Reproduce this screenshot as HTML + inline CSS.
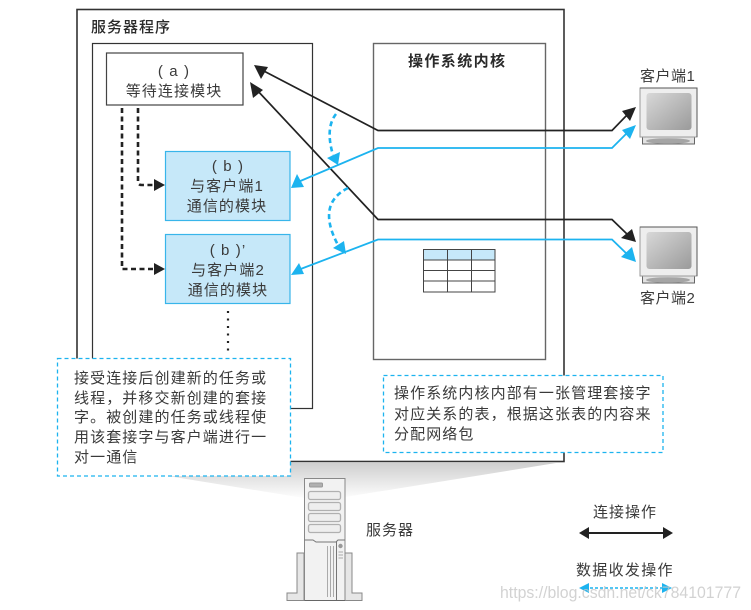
<!DOCTYPE html>
<html><head><meta charset="utf-8">
<style>
html,body{margin:0;padding:0;background:#fff}
svg{display:block}
text{font-family:"Liberation Sans","Noto Sans CJK SC",sans-serif;font-size:15px;fill:#3a3a3a;letter-spacing:1.1px}
.c{text-anchor:middle}
.b{font-weight:bold;fill:#2a2a2a}
</style></head><body>
<svg width="751" height="610" viewBox="0 0 751 610" xmlns="http://www.w3.org/2000/svg">
<defs>
<linearGradient id="g" x1="0" y1="0" x2="0" y2="1"><stop offset="0" stop-color="#cfcfcf"/><stop offset="1" stop-color="#fdfdfd"/></linearGradient>
<linearGradient id="s" x1="0" y1="0" x2="1" y2="1"><stop offset="0" stop-color="#d8d8d8"/><stop offset="1" stop-color="#9a9a9a"/></linearGradient>
<g id="mon">
<rect x="2.500" y="49" width="52" height="7" fill="#e2e2e2" stroke="#666" stroke-width="1"/>
<ellipse cx="28" cy="53" rx="22" ry="2.800" fill="#a5a5a5"/>
<rect x="0" y="0" width="57" height="49" fill="#eeeeee" stroke="#999" stroke-width="1"/>
<path d="M0 0H57V49" fill="none" stroke="#555" stroke-width="1"/>
<rect x="6.500" y="5" width="45" height="37" rx="3" fill="url(#s)"/>
</g>
</defs>

<!-- shade -->
<polygon points="168,476 304,498 345,497 556,463 77,463" fill="url(#g)"/>

<!-- outer -->
<rect x="77" y="9.500" width="487" height="452" fill="none" stroke="#333" stroke-width="1.600"/>
<rect x="92.500" y="43.500" width="220" height="365" fill="#fff" stroke="#333" stroke-width="1.200"/>
<rect x="373.500" y="43.500" width="172" height="316" fill="#fff" stroke="#666" stroke-width="1.400"/>

<text x="91" y="32" style="font-size:15px;letter-spacing:1px;font-weight:500;fill:#2a2a2a">服务器程序</text>
<text x="408" y="66" class="b" style="font-size:15px;letter-spacing:1.400px">操作系统内核</text>

<!-- a box -->
<rect x="106.500" y="53" width="136.500" height="52" fill="#fff" stroke="#444" stroke-width="1.200"/>
<text x="174" y="76" class="c">( a )</text>
<text x="174" y="96" class="c">等待连接模块</text>

<!-- b boxes -->
<rect x="165.500" y="151.500" width="124.500" height="69" fill="#c6e8f9" stroke="#38b5ea" stroke-width="1.200"/>
<text x="228" y="171" class="c">( b )</text>
<text x="227" y="191" class="c">与客户端1</text>
<text x="227" y="211" class="c">通信的模块</text>
<rect x="165.500" y="234.500" width="124.500" height="69" fill="#c6e8f9" stroke="#38b5ea" stroke-width="1.200"/>
<text x="228" y="255" class="c">( b )’</text>
<text x="228" y="275" class="c">与客户端2</text>
<text x="228" y="295" class="c">通信的模块</text>

<!-- dashed black -->
<path d="M138 108V182Q138 185 142 185H156" fill="none" stroke="#222" stroke-width="2.600" stroke-dasharray="5 3.500"/>
<polygon points="165,185 154,179 154,191" fill="#222"/>
<path d="M122 108V269H156" fill="none" stroke="#222" stroke-width="2.600" stroke-dasharray="5 3.500"/>
<polygon points="165,269 154,263 154,275" fill="#222"/>

<!-- dots -->
<path d="M228 311V352" fill="none" stroke="#222" stroke-width="2.200" stroke-dasharray="2 5.500"/>

<!-- table -->
<rect x="423.500" y="249.500" width="71.500" height="10.500" fill="#c6e8f9"/>
<g fill="none" stroke="#444" stroke-width="1">
<rect x="423.500" y="249.500" width="71.500" height="42.500"/>
<path d="M447.500 249.500V292M471.500 249.500V292M423.500 260H495M423.500 270.500H495M423.500 281H495"/>
</g>

<!-- black connectors -->
<path d="M260 69L378 130.500H612L628 114" fill="none" stroke="#222" stroke-width="1.700"/>
<polygon points="254,65 268,67 261,79" fill="#222"/>
<polygon points="636,107 622,111 630,121" fill="#222"/>
<path d="M256 89L378 219.500H612L628 235" fill="none" stroke="#222" stroke-width="1.700"/>
<polygon points="250,82 263,90 253,98" fill="#222"/>
<polygon points="636,242 621,238 632,229" fill="#222"/>

<!-- cyan connectors -->
<path d="M298 182L378 148H612L628 132" fill="none" stroke="#1cb3ef" stroke-width="1.800"/>
<polygon points="291,188 297,174 304,187" fill="#1cb3ef"/>
<polygon points="636,125 622,130 630,139" fill="#1cb3ef"/>
<path d="M298 270L378 239.500H612L628 255" fill="none" stroke="#1cb3ef" stroke-width="1.800"/>
<polygon points="291,275 299,263 304,274" fill="#1cb3ef"/>
<polygon points="636,262 621,257 632,247" fill="#1cb3ef"/>

<!-- curved dashed -->
<path d="M336 114Q325 128 333 155" fill="none" stroke="#1cb3ef" stroke-width="2.600" stroke-dasharray="5 3.500"/>
<polygon points="338,165 327,158 340,152" fill="#1cb3ef"/>
<path d="M348 188Q316 204 338 245" fill="none" stroke="#1cb3ef" stroke-width="2.600" stroke-dasharray="5 3.500"/>
<polygon points="346,254 333,248 344,241" fill="#1cb3ef"/>

<!-- callouts -->
<rect x="57.500" y="358.500" width="233" height="117.500" fill="#fff" stroke="#1cb3ef" stroke-width="1.300" stroke-dasharray="4 3"/>
<text x="74" y="383">接受连接后创建新的任务或</text>
<text x="74" y="403">线程，并移交新创建的套接</text>
<text x="74" y="422">字。被创建的任务或线程使</text>
<text x="74" y="442">用该套接字与客户端进行一</text>
<text x="74" y="462">对一通信</text>

<rect x="383.500" y="375.500" width="279.500" height="77" fill="#fff" stroke="#1cb3ef" stroke-width="1.300" stroke-dasharray="4 3"/>
<text x="394" y="398">操作系统内核内部有一张管理套接字</text>
<text x="394" y="419">对应关系的表，根据这张表的内容来</text>
<text x="394" y="439">分配网络包</text>

<!-- monitors -->
<use href="#mon" x="640" y="88"/>
<use href="#mon" x="640" y="227"/>
<text x="640" y="81" style="letter-spacing:.5px">客户端1</text>
<text x="640" y="303" style="letter-spacing:.5px">客户端2</text>

<!-- server -->
<g stroke="#888" stroke-width="1" fill="#e6e6e6">
<path d="M297 553H304V600.500H287V593H297Z"/>
<path d="M352 553H345V600.500H362V593H352Z"/>
<rect x="304.500" y="478.500" width="40.500" height="122" fill="#f2f2f2"/>
</g>
<path d="M304.500 540H313L316 542H336L338 540H345" fill="none" stroke="#777"/>
<path d="M336.500 541V600.500" stroke="#777" fill="none"/>
<path d="M304.500 600.500H345" stroke="#666" fill="none"/>
<rect x="309.500" y="483" width="13" height="4" rx="1" fill="#b0b0b0" stroke="#999"/>
<g fill="#eeeeee" stroke="#b0b0b0" stroke-width="1.300">
<rect x="308.500" y="491.500" width="32" height="8" rx="2"/>
<rect x="308.500" y="502.500" width="32" height="8" rx="2"/>
<rect x="308.500" y="513.500" width="32" height="8" rx="2"/>
<rect x="308.500" y="524.500" width="32" height="8" rx="2"/>
</g>
<g stroke="#aaa" stroke-width="1"><path d="M327.500 546V597M330.500 546V597M333.500 546V597"/></g>
<circle cx="340.500" cy="546" r="2.200" fill="#999"/>
<path d="M338.500 552H343M338.500 555H343M338.500 558H343" stroke="#aaa"/>
<text x="366" y="535" style="letter-spacing:1px">服务器</text>

<!-- legend -->
<text x="593" y="517" style="letter-spacing:1px">连接操作</text>
<path d="M585 533H667" stroke="#222" stroke-width="2"/>
<polygon points="579,533 589,527 589,539" fill="#222"/>
<polygon points="673,533 663,527 663,539" fill="#222"/>
<text x="576" y="575" style="letter-spacing:1.300px">数据收发操作</text>
<path d="M585 588H667" stroke="#1cb3ef" stroke-width="1.600" stroke-dasharray="3 2"/>
<polygon points="579,588 589,583 589,593" fill="#1cb3ef"/>
<polygon points="672,588 662,583 662,593" fill="#1cb3ef"/>

<!-- watermark -->
<text x="500" y="598" textLength="241" lengthAdjust="spacingAndGlyphs" style="font-size:17px;fill:#c8c8c8;letter-spacing:0;opacity:.8">https://blog.csdn.net/ck784101777</text>
</svg>
</body></html>
